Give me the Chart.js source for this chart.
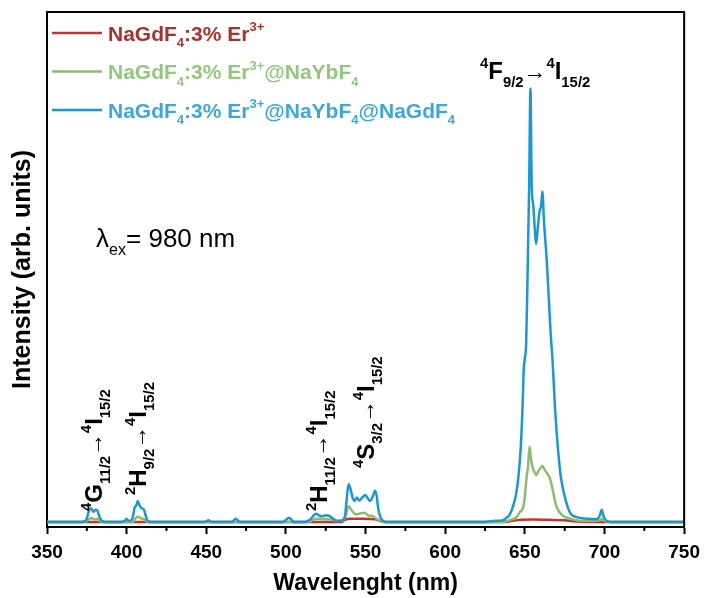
<!DOCTYPE html>
<html>
<head>
<meta charset="utf-8">
<script src="https://cdn.jsdelivr.net/npm/chart.js@4.4.1/dist/chart.umd.min.js"></script>
<style>
  html, body { margin: 0; padding: 0; background: #fff; }
  canvas { display: block; }
</style>
</head>
<body>
<canvas id="chart" width="707" height="598"></canvas>
<script>
// Upconversion emission spectra (arb. units)
const redWl  = [350, 535, 537, 540, 548, 556, 559, 562, 638, 642, 648, 655, 665, 675, 680, 690, 750];
const redInt = [0, 0, 0.4, 0.6, 0.6, 0.5, 0.2, 0, 0, 0.2, 0.4, 0.45, 0.4, 0.3, 0.15, 0, 0];

const greenWl  = [350, 374, 376, 378, 380, 382, 384, 404, 405.5, 407, 409, 411, 413,
  514, 517, 520, 524, 528, 532, 536, 537.5, 539.3, 540.5, 542, 543.5, 545, 547, 549, 550.5, 552, 554, 556, 558, 561,
  636, 641, 645, 647, 648.8, 650, 651, 652, 653, 653.8, 655, 656, 657.2, 658.5, 660, 661, 662.5, 664, 666, 668, 669.5,
  672, 675, 680, 686, 692, 697, 698.5, 700, 704, 750];
const greenInt = [0, 0, 0.5, 0.7, 0.5, 0.6, 0, 0, 0.7, 1.0, 0.7, 0.5, 0,
  0, 0.4, 0.6, 0.5, 0.5, 0.2, 0.3, 1.2, 3.1, 2.6, 2.0, 1.5, 1.5, 1.7, 1.8, 1.6, 1.2, 1.2, 0.8, 0.4, 0,
  0, 0.4, 1.0, 2.0, 2.7, 5.0, 8.5, 11, 14.8, 12.5, 10.5, 9.8, 9.2, 10, 10.6, 11, 10.2, 9.5, 8.3, 5.5, 3.3,
  1.8, 1.0, 0.5, 0.2, 0.2, 0.3, 0.6, 0.2, 0, 0];

const blueWl  = [350, 372, 374.5, 376, 377, 378, 379, 380.5, 381.5, 383, 384.5, 386,
  397, 399, 400, 401, 403, 404, 405, 406, 407, 408, 409, 410, 411, 412, 413, 415,
  449, 451.5, 453, 466, 468.5, 471, 498, 502, 505,
  512, 515, 517, 519, 521, 523, 525, 527, 529, 531, 533, 535, 537, 538, 539.3, 540.5, 542, 543, 544.5, 546, 548,
  549.8, 551, 553, 554.5, 556, 557, 558, 559.5, 561, 563,
  625, 630, 636, 638.5, 640.4, 642.5, 644.4, 646, 647.5, 648.7, 649.3, 650, 650.8, 651.5, 652, 652.7, 653.5, 654.3,
  655.3, 656.3, 657.1, 658.2, 659.3, 660.2, 661, 662, 664, 666, 667.5, 669, 670.6, 672.5, 674.8, 677, 679, 682,
  686, 690, 695, 697, 698.3, 699.5, 701, 704, 750];
const blueInt = [0, 0, 0.3, 1.8, 2.7, 2.5, 2.0, 2.4, 2.3, 1.0, 0.2, 0,
  0, 0.3, 0.6, 0.2, 0.3, 1.2, 2.8, 3.2, 4.1, 3.3, 2.8, 2.6, 2.3, 1.2, 0.3, 0,
  0, 0.3, 0, 0, 0.6, 0, 0, 0.8, 0,
  0, 0.4, 1.1, 1.6, 1.2, 1.1, 1.3, 1.2, 0.8, 0.3, 0.2, 0.3, 1.0, 4.0, 7.4, 6.5, 4.6, 4.1, 4.8, 4.2, 4.8,
  5.3, 4.8, 4.1, 5.0, 6.1, 5.0, 2.5, 0.8, 0.2, 0,
  0, 0.2, 0.3, 0.8, 1.4, 3.0, 5.3, 9, 15, 24, 30, 32, 35, 45, 54, 66, 85, 66,
  62, 57, 54.5, 58, 61, 62, 64.8, 59, 50, 38, 31, 22, 15, 9, 5.3, 2.8, 1.5, 1.0,
  0.7, 0.6, 0.5, 1.2, 2.4, 1.0, 0.3, 0, 0];

const xTicks = [350, 400, 450, 500, 550, 600, 650, 700, 750];

const legendItems = [
  { color: '#c8342c', text: '#a9322c', parts: [['NaGdF'], ['4', 'sub'], [':3% Er'], ['3+', 'sup']] },
  { color: '#8fbb6e', text: '#93c87c', parts: [['NaGdF'], ['4', 'sub'], [':3% Er'], ['3+', 'sup'], ['@NaYbF'], ['4', 'sub']] },
  { color: '#1b97d4', text: '#3ca8da', parts: [['NaGdF'], ['4', 'sub'], [':3% Er'], ['3+', 'sup'], ['@NaYbF'], ['4', 'sub'], ['@NaGdF'], ['4', 'sub']] }
];

const FONT = '"Liberation Sans", Arial, "DejaVu Sans", sans-serif';

function pts(xs, ys) {
  return xs.map((x, i) => ({ x: x, y: ys[i] }));
}

// draws text with super/subscripts, optionally rotated to read bottom-to-top
function richText(ctx, x, y, parts, size, rotate, weight) {
  ctx.save();
  ctx.translate(x, y);
  if (rotate) ctx.rotate(-Math.PI / 2);
  ctx.textBaseline = 'alphabetic';
  ctx.textAlign = 'left';
  let cx = 0;
  parts.forEach(p => {
    const kind = p[1] || '';
    let fs = size, dy = 0, w = weight || 'bold';
    if (kind === 'sup') { fs = size * 0.62; dy = -size * 0.45; }
    if (kind === 'sub') { fs = size * 0.62; dy = size * 0.32; }
    if (kind === 'arr') { w = 'normal'; fs = size * 0.95; dy = -size * 0.02; }
    ctx.font = w + ' ' + fs + 'px ' + FONT;
    ctx.fillText(p[0], cx, dy);
    cx += ctx.measureText(p[0]).width;
  });
  ctx.restore();
}

// level symbol like '4G' with its J subscript, then arrow to 4I15/2
const transition = (lvl, j) => [[lvl[0], 'sup'], [lvl[1]], [j, 'sub'], ['\u2192', 'arr'], ['4', 'sup'], ['I'], ['15/2', 'sub']];

const extras = {
  id: 'extras',
  afterDraw(chart) {
    const ctx = chart.ctx;
    const a = chart.chartArea;
    const xs = chart.scales.x;
    ctx.save();
    // top and right frame
    ctx.strokeStyle = '#000';
    ctx.lineWidth = 2;
    ctx.beginPath();
    ctx.moveTo(a.left, a.top);
    ctx.lineTo(a.right, a.top);
    ctx.lineTo(a.right, a.bottom);
    ctx.stroke();
    // minor ticks
    xs.ticks.forEach(t => {
      if (t.value % 50 !== 0) {
        const px = xs.getPixelForValue(t.value);
        ctx.beginPath();
        ctx.moveTo(px, a.bottom);
        ctx.lineTo(px, a.bottom + 4);
        ctx.stroke();
      }
    });

    // legend
    legendItems.forEach((it, i) => {
      const y = 33 + i * 38.5;
      ctx.strokeStyle = it.color;
      ctx.lineWidth = 2.5;
      ctx.beginPath();
      ctx.moveTo(52, y);
      ctx.lineTo(102, y);
      ctx.stroke();
      ctx.fillStyle = it.text;
      richText(ctx, 108, y + 7.5, it.parts, 21, false);
    });

    // transition labels
    ctx.fillStyle = '#000';
    richText(ctx, 480, 79, transition('4F', '9/2'), 24, false);
    richText(ctx, 102, 511, transition('4G', '11/2'), 24, true);
    richText(ctx, 146, 495, transition('2H', '9/2'), 24, true);
    richText(ctx, 327, 511, transition('2H', '11/2'), 24, true);
    richText(ctx, 374, 468, transition('4S', '3/2'), 24, true);

    richText(ctx, 96, 247, [['\u03bb'], ['ex', 'sub'], ['= 980 nm']], 26, false, 'normal');
    ctx.restore();
  }
};

new Chart(document.getElementById('chart'), {
  type: 'line',
  data: {
    datasets: [
      { data: pts(redWl, redInt), borderColor: '#c8342c', borderWidth: 2.5, order: 3 },
      { data: pts(greenWl, greenInt), borderColor: '#8fbb6e', borderWidth: 2.5, order: 2 },
      { data: pts(blueWl, blueInt), borderColor: '#1b97d4', borderWidth: 2.5, order: 1 }
    ]
  },
  options: {
    responsive: false,
    animation: false,
    layout: { padding: { top: 12, right: 20, left: 0, bottom: 0 } },
    elements: {
      point: { radius: 0 },
      line: { tension: 0.25, cubicInterpolationMode: 'monotone', fill: false }
    },
    plugins: { legend: { display: false }, tooltip: { enabled: false } },
    scales: {
      x: {
        type: 'linear',
        min: 350,
        max: 750,
        afterFit: s => { s.height = 71; },
        afterBuildTicks: s => {
          const t = [];
          for (let v = 350; v <= 750; v += 25) t.push({ value: v });
          s.ticks = t;
        },
        ticks: {
          autoSkip: false,
          maxRotation: 0,
          padding: 7,
          color: '#000',
          font: { family: FONT, size: 19, weight: 'bold' },
          callback: v => xTicks.includes(v) ? String(v) : ''
        },
        grid: {
          drawOnChartArea: false,
          drawTicks: true,
          tickLength: 7,
          tickWidth: 2,
          tickColor: c => (c.tick && c.tick.value % 50 === 0) ? '#000' : 'rgba(0,0,0,0)'
        },
        border: { display: true, color: '#000', width: 2 },
        title: {
          display: true,
          text: 'Wavelenght (nm)',
          color: '#000',
          font: { family: FONT, size: 23, weight: 'bold' },
          padding: { top: 0, bottom: 1 }
        }
      },
      y: {
        min: -1,
        max: 100,
        afterFit: s => { s.width = 47; },
        ticks: { display: false },
        grid: { display: false },
        border: { display: true, color: '#000', width: 2 },
        title: {
          display: true,
          text: 'Intensity (arb. units)',
          color: '#000',
          font: { family: FONT, size: 25, weight: 'bold' },
          padding: { top: 8, bottom: 0 }
        }
      }
    }
  },
  plugins: [extras]
});
</script>
</body>
</html>
